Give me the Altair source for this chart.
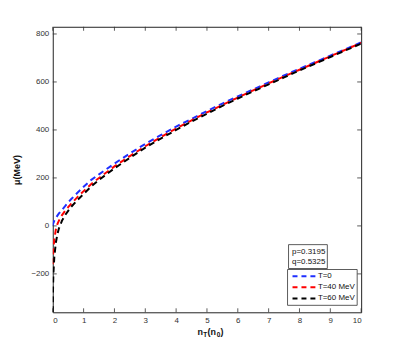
import altair as alt
import pandas as pd

# ---- data ----
n_vals = [0, 0.005, 0.01, 0.02, 0.05, 0.1, 0.15, 0.2, 0.3, 0.4, 0.5, 0.6, 0.8, 1.0,
          1.25, 1.5, 2, 2.5, 3, 3.5, 4, 4.5, 5, 5.5, 6, 6.5, 7, 7.5, 8, 8.5, 9, 9.5, 10]
mu_T0 = [0, 5, 8, 12, 22, 33, 43, 52, 67, 82, 98, 112, 138, 163,
         192, 215, 260, 302, 342, 378, 414, 446, 479, 510, 540, 569, 598, 627, 655, 682, 710, 737, 765]
mu_T40 = [-160, -140, -125, -100, -55, -15, 8, 22, 45, 63, 78, 93, 120, 145,
          175, 200, 248, 291, 332, 370, 406, 440, 473, 504, 535, 565, 594, 623, 651, 679, 707, 735, 763]
mu_T60 = [-360, -300, -250, -200, -130, -70, -35, -10, 22, 45, 63, 80, 108, 133,
          165, 192, 240, 284, 326, 364, 400, 435, 468, 500, 531, 561, 590, 619, 648, 676, 704, 732, 760]

series_names = ["T=0", "T=40 MeV", "T=60 MeV"]
series_colors = ["#1f2fff", "#ff0000", "#000000"]
series_values = [mu_T0, mu_T40, mu_T60]

x_ticks = [0, 1, 2, 3, 4, 5, 6, 7, 8, 9, 10]
y_ticks = [-200, 0, 200, 400, 600, 800]
x_domain = [0, 10]
y_domain = [-360, 830]
params_text = ["p=0.3195", "q=0.5325"]

W, H = 310, 287
FONT = "Liberation Sans"

xs = alt.Scale(domain=x_domain, nice=False, zero=False)
ys = alt.Scale(domain=y_domain, nice=False, zero=False)

xaxis = alt.Axis(values=x_ticks, ticks=False, grid=False, domain=False, labelPadding=4,
                 labelOverlap=False, title=None, labelFontSize=8, labelFont=FONT, labelColor="#333")
yaxis = alt.Axis(values=y_ticks, ticks=False, grid=False, domain=False, labelPadding=4,
                 labelOverlap=False,
                 title="μ(MeV)", titleFont=FONT, titleFontSize=9, titleFontWeight="bold",
                 titlePadding=9, titleColor="#111",
                 labelFontSize=8, labelFont=FONT, labelColor="#333")

layers = []
for i, (name, col, vals) in enumerate(zip(series_names, series_colors, series_values)):
    df = pd.DataFrame({"n": n_vals, "mu": vals, "s": name})
    line = alt.Chart(df).mark_line(color=col, strokeWidth=2, strokeDash=[6, 4], clip=True).encode(
        x=alt.X("n:Q", scale=xs, axis=xaxis),
        y=alt.Y("mu:Q", scale=ys, axis=yaxis),
    )
    layers.append(line)

# inward ticks
xt = pd.DataFrame({"v": x_ticks})
yt = pd.DataFrame({"v": y_ticks})
tick_style = dict(color="#333", strokeWidth=0.8)
tb = alt.Chart(xt).mark_rule(**tick_style).encode(x=alt.X("v:Q", scale=xs, axis=xaxis), y=alt.value(H), y2=alt.value(H - 4))
tt = alt.Chart(xt).mark_rule(**tick_style).encode(x=alt.X("v:Q", scale=xs, axis=xaxis), y=alt.value(0), y2=alt.value(4))
tl = alt.Chart(yt).mark_rule(**tick_style).encode(y=alt.Y("v:Q", scale=ys, axis=yaxis), x=alt.value(0), x2=alt.value(4))
tr = alt.Chart(yt).mark_rule(**tick_style).encode(y=alt.Y("v:Q", scale=ys, axis=yaxis), x=alt.value(W), x2=alt.value(W - 4))

# x-axis title n_T(n_0)
one = pd.DataFrame({"a": [0]})
def txt(t, x, y, size=9, weight="bold"):
    return alt.Chart(one).mark_text(text=t, align="left", baseline="middle", font=FONT,
                                    fontSize=size, fontWeight=weight, color="#111").encode(
        x=alt.value(x), y=alt.value(y))

xtitle = [txt("n", 145.5, 306.5), txt("T", 151.3, 309.5, size=6.5), txt("(n", 155.5, 306.5),
          txt("0", 164.8, 309.5, size=6.5), txt(")", 168.6, 306.5)]

# parameter box
pbox = alt.Chart(one).mark_rect(fill="white", stroke="#333", strokeWidth=0.8).encode(
    x=alt.value(237), x2=alt.value(276), y=alt.value(219), y2=alt.value(243))
ptexts = [txt(params_text[0], 240.5, 226.5, size=8, weight="normal"),
          txt(params_text[1], 240.5, 236, size=8, weight="normal")]

# legend box
lbox = alt.Chart(one).mark_rect(fill="white", stroke="#333", strokeWidth=0.8).encode(
    x=alt.value(236), x2=alt.value(306), y=alt.value(244), y2=alt.value(280))
leg = []
for i, (name, col) in enumerate(zip(series_names, series_colors)):
    yy = 250.7 + i * 11.2
    leg.append(alt.Chart(one).mark_rule(color=col, strokeWidth=2, strokeDash=[5, 4]).encode(
        x=alt.value(241), x2=alt.value(264), y=alt.value(yy)))
    leg.append(txt(name, 266.5, yy, size=8, weight="normal"))

chart = alt.layer(*layers, tb, tt, tl, tr, *xtitle, pbox, *ptexts, lbox, *leg).properties(
    width=W, height=H,
    autosize=alt.AutoSizeParams(type="none"),
    padding={"left": 45, "top": 18, "right": 30, "bottom": 30},
    background="white",
).configure_view(stroke="#222", strokeWidth=1)

chart.save("out.html", embed_options={"renderer": "svg", "actions": False})
